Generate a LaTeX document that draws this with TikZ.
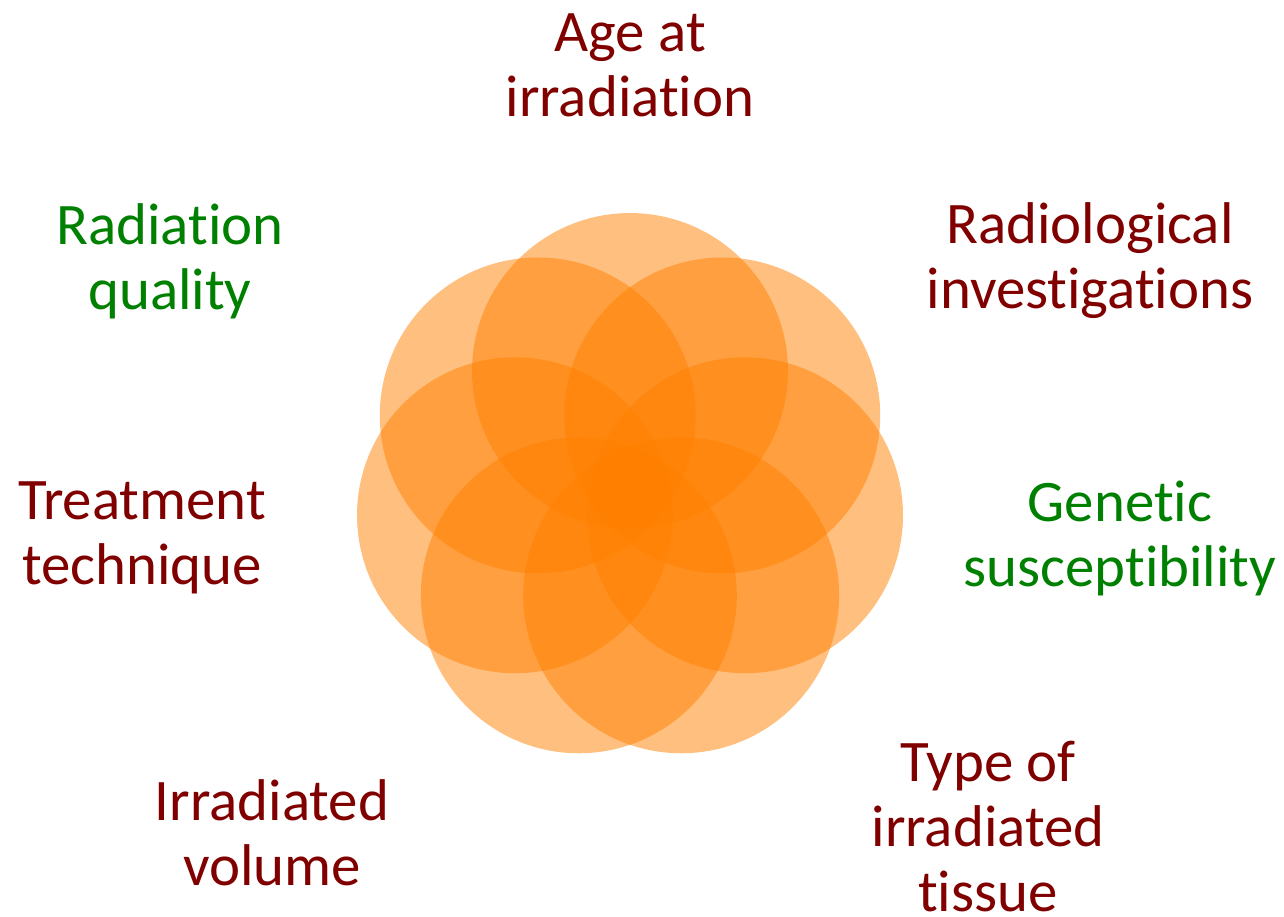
\documentclass[tikz,border=0pt]{standalone}
\usepackage{fontspec}
\setmainfont[Ligatures=NoCommon]{Carlito}
\usepackage{tikz}

\definecolor{petal}{RGB}{255,128,0}
\definecolor{darkred}{RGB}{128,0,0}
\definecolor{darkgreen}{RGB}{0,128,0}

\begin{document}
\begin{tikzpicture}[x=0.02cm,y=-0.02cm]
\tikzset{petal/.style = {fill=petal,fill opacity=0.5,draw=none}}
\tikzset{factor/.style = {align=center,font=\fontsize{33.5}{37}\selectfont}}
\useasboundingbox (0,0) rectangle (1284,916);
% circles
\coordinate (o) at (630,489);
\foreach \a in {90,38.57,-12.86,-64.29,-115.71,-167.14,141.43}
  \fill[petal] (o) ++(\a:2.36cm) circle (3.16cm);
% labels
\node[factor,darkred] (age) at (630,65) {Age at\\irradiation};
\node[factor,darkgreen] (quality) at (170,261) {Radiation\\quality};
\node[factor,darkred] (radio) at (1090,261) {Radiological\\investigations};
\node[factor,darkred] (treat) at (142,538) {Treatment\\technique};
\node[factor,darkgreen] (genetic) at (1120,538) {Genetic\\susceptibility};
\node[factor,darkred] (volume) at (272,833) {Irradiated\\volume};
\node[factor,darkred] (tissue) at (988,827) {Type of\\irradiated\\tissue};
\end{tikzpicture}
\end{document}
